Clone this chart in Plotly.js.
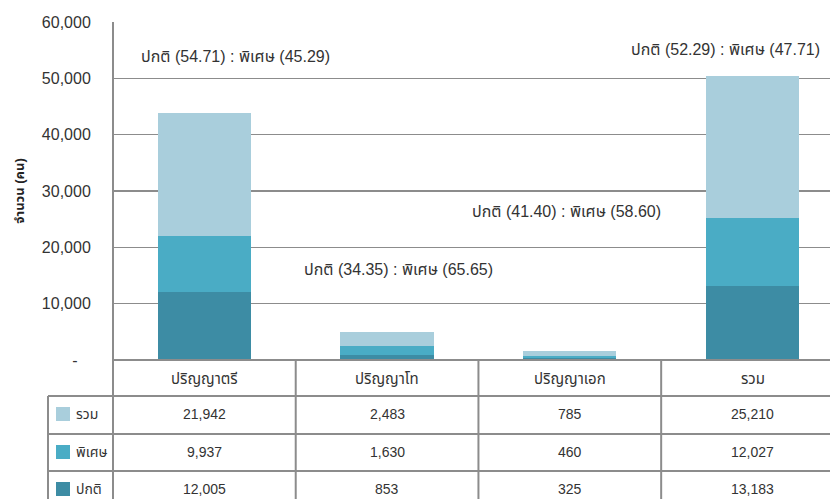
<!DOCTYPE html>
<html>
<head>
<meta charset="utf-8">
<script src="https://cdn.plot.ly/plotly-3.0.1.min.js"></script>
<style>html,body{margin:0;padding:0;background:#fff;}#chart{width:831px;height:499px;}</style>
</head>
<body>
<div id="chart"></div>
<script>
// ---- data ----
const categories = ["ปริญญาตรี", "ปริญญาโท", "ปริญญาเอก", "รวม"];
const seriesNames = ["รวม", "พิเศษ", "ปกติ"];
const totalVals = [21942, 2483, 785, 25210];
const specialVals = [9937, 1630, 460, 12027];
const normalVals = [12005, 853, 325, 13183];
const normalPct = ["54.71", "34.35", "41.40", "52.29"];
const specialPct = ["45.29", "65.65", "58.60", "47.71"];
const yTickVals = [0, 10000, 20000, 30000, 40000, 50000, 60000];
const yTickText = ["-\u00a0\u00a0\u00a0", "10,000", "20,000", "30,000", "40,000", "50,000", "60,000"];

// ---- style ----
const colors = {"รวม": "#a9cedc", "พิเศษ": "#4aacc5", "ปกติ": "#3d8ca4"};
const FONT = "Liberation Sans, Noto Sans Thai, Noto Sans, sans-serif";
const lineCol = "#8c8c8c";
const H = 499, T = 22, B = 139, PW = 717;
const py = p => (H - B - p) / (H - T - B); // pixel y -> paper y
const px = p => (p - 113) / PW;            // pixel x -> paper x

const fmt = v => v.toLocaleString("en-US");
const txt = (size) => ({family: FONT, size: size, color: "#333"});

const traces = [
  {name: "ปกติ", y: normalVals},
  {name: "พิเศษ", y: specialVals},
  {name: "รวม", y: totalVals}
].map(s => ({
  type: "bar", x: categories, y: s.y, name: s.name,
  marker: {color: colors[s.name], line: {width: 0}},
  width: 0.51, hoverinfo: "skip"
}));

// ratio annotation positions (category offset, y value)
const ratioPos = [[0.17, 53900], [1.06, 16000], [1.98, 26300], [2.85, 55200]];

const annotations = [];
const shapes = [];

categories.forEach((c, i) => {
  annotations.push({
    x: ratioPos[i][0], y: ratioPos[i][1], xref: "x", yref: "y",
    xanchor: "center", yanchor: "middle",
    text: "ปกติ (" + normalPct[i] + ") : พิเศษ (" + specialPct[i] + ")",
    showarrow: false, font: txt(16)
  });
  // header
  annotations.push({x: i, y: py(378), xref: "x", yref: "paper", xanchor: "center", yanchor: "middle",
    text: c, showarrow: false, font: txt(15)});
});

const rowCenters = [414, 452, 489];
const rowData = [totalVals, specialVals, normalVals];
rowData.forEach((vals, r) => {
  vals.forEach((v, i) => {
    annotations.push({x: i, y: py(rowCenters[r]), xref: "x", yref: "paper",
      xanchor: "center", yanchor: "middle",
      text: fmt(v), showarrow: false, font: txt(14)});
  });
  // legend swatch + label
  shapes.push({type: "rect", xref: "paper", yref: "paper",
    x0: px(56), x1: px(70), y0: py(rowCenters[r] + 7), y1: py(rowCenters[r] - 7),
    fillcolor: colors[seriesNames[r]], line: {width: 0}});
  annotations.push({x: px(74), y: py(rowCenters[r]), xref: "paper", yref: "paper",
    xanchor: "left", yanchor: "middle", text: seriesNames[r], showarrow: false, font: txt(14)});
});

// table borders
const L = {color: lineCol, width: 2};
[396, 434, 471].forEach(p => shapes.push({type: "line", xref: "paper", yref: "paper",
  x0: px(48), x1: 1, y0: py(p), y1: py(p), line: L}));
shapes.push({type: "line", xref: "paper", yref: "paper", x0: 0, x1: 1, y0: 0, y1: 0, line: L});
shapes.push({type: "line", xref: "paper", yref: "paper", x0: px(48), x1: px(48), y0: py(396), y1: py(510), line: L});
shapes.push({type: "line", xref: "paper", yref: "paper", x0: 0, x1: 0, y0: 1, y1: py(510), line: L});
[0.5, 1.5, 2.5].forEach(x => shapes.push({type: "line", xref: "x", yref: "paper",
  x0: x, x1: x, y0: 0, y1: py(510), line: L}));

const layout = {
  width: 831, height: 499,
  margin: {l: 113, r: 1, t: T, b: B},
  paper_bgcolor: "#fff", plot_bgcolor: "#fff",
  barmode: "stack", showlegend: false,
  font: txt(14),
  xaxis: {type: "category", showticklabels: false, showgrid: false, zeroline: false,
    showline: false, range: [-0.5, 3.424], fixedrange: true},
  yaxis: {range: [0, 60000], tickvals: yTickVals, ticktext: yTickText,
    showgrid: true, gridcolor: lineCol, gridwidth: 1.5, zeroline: false, showline: false,
    ticks: "outside", ticklen: 18, tickcolor: "rgba(0,0,0,0)",
    tickfont: txt(16),
    title: {text: "<b>จำนวน (คน)</b>", standoff: 14, font: {family: FONT, size: 13, color: "#222"}},
    fixedrange: true},
  shapes: shapes, annotations: annotations
};

Plotly.newPlot("chart", traces, layout, {displayModeBar: false, staticPlot: true});
</script>
</body>
</html>
